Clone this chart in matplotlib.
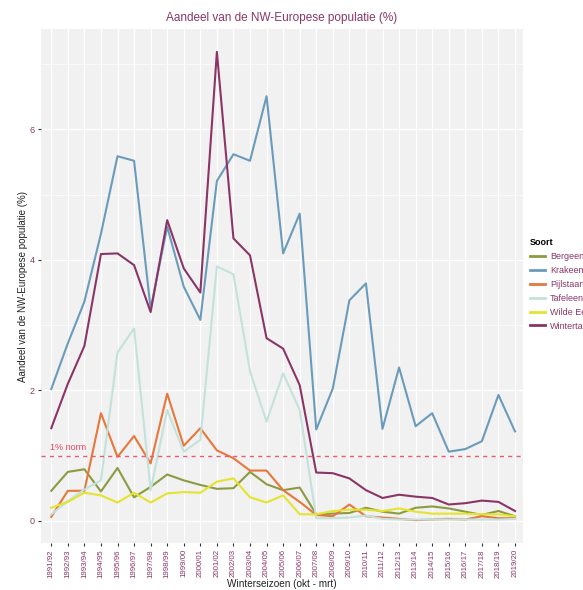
import matplotlib
matplotlib.use("Agg")
import matplotlib.pyplot as plt
from matplotlib.lines import Line2D

plt.rcParams['font.family'] = ['Liberation Sans', 'DejaVu Sans']

seasons = ["1991/92", "1992/93", "1993/94", "1994/95", "1995/96", "1996/97", "1997/98",
           "1998/99", "1999/00", "2000/01", "2001/02", "2002/03", "2003/04", "2004/05",
           "2005/06", "2006/07", "2007/08", "2008/09", "2009/10", "2010/11", "2011/12",
           "2012/13", "2013/14", "2014/15", "2015/16", "2016/17", "2017/18", "2018/19",
           "2019/20"]

bergeend = [0.46, 0.75, 0.79, 0.45, 0.81, 0.36, 0.52, 0.71, 0.62, 0.55, 0.49, 0.50, 0.75,
            0.56, 0.47, 0.51, 0.10, 0.11, 0.12, 0.20, 0.14, 0.11, 0.20, 0.22, 0.19, 0.14,
            0.09, 0.15, 0.07]
krakeend = [2.02, 2.72, 3.36, 4.40, 5.59, 5.52, 3.25, 4.51, 3.59, 3.08, 5.21, 5.62, 5.52,
            6.51, 4.10, 4.71, 1.40, 2.03, 3.38, 3.64, 1.41, 2.35, 1.45, 1.65, 1.06, 1.10,
            1.22, 1.93, 1.37]
pijlstaart = [0.06, 0.46, 0.46, 1.65, 0.98, 1.30, 0.88, 1.95, 1.15, 1.42, 1.08, 0.96, 0.77,
              0.77, 0.47, 0.29, 0.09, 0.07, 0.25, 0.07, 0.05, 0.03, 0.01, 0.02, 0.03, 0.02,
              0.07, 0.04, 0.04]
tafeleend = [0.10, 0.30, 0.48, 0.62, 2.58, 2.95, 0.47, 1.70, 1.06, 1.24, 3.90, 3.78, 2.29,
             1.52, 2.26, 1.70, 0.04, 0.04, 0.05, 0.08, 0.03, 0.02, 0.02, 0.02, 0.02, 0.02,
             0.02, 0.02, 0.03]
wilde_eend = [0.20, 0.29, 0.43, 0.39, 0.28, 0.43, 0.28, 0.42, 0.44, 0.43, 0.60, 0.65, 0.36,
              0.28, 0.39, 0.10, 0.10, 0.15, 0.17, 0.17, 0.15, 0.19, 0.14, 0.11, 0.11, 0.11,
              0.10, 0.10, 0.07]
wintertaling = [1.42, 2.10, 2.68, 4.09, 4.10, 3.92, 3.20, 4.61, 3.87, 3.50, 7.19, 4.33, 4.07,
                2.80, 2.64, 2.08, 0.74, 0.73, 0.65, 0.47, 0.35, 0.40, 0.37, 0.35, 0.25, 0.27,
                0.31, 0.29, 0.15]

species = ["Bergeend", "Krakeend", "Pijlstaart", "Tafeleend", "Wilde Eend", "Wintertaling"]
series = [bergeend, krakeend, pijlstaart, tafeleend, wilde_eend, wintertaling]
colors = ["#8c9b40", "#6b9bbb", "#e8773c", "#c3e2dc", "#e4e42e", "#8a3566"]
norm_value = 1.0

purple = "#8a3566"
fig = plt.figure(figsize=(5.83, 5.90), dpi=100)
ax = fig.add_axes([0.0703, 0.0797, 0.8267, 0.8711])
ax.set_facecolor("#f1f1f1")

x = list(range(len(seasons)))
for vals, col in zip(series, colors):
    ax.plot(x, vals, color=col, lw=1.5, solid_joinstyle="round", zorder=3)

ax.axhline(norm_value, color="#ea5a72", lw=1.0, ls=(0, (3, 3)), zorder=4)
ax.text(-0.05, norm_value + 0.06, "1% norm", color="#e8435e", fontsize=6.5,
        ha="left", va="bottom", zorder=5)

ax.set_xlim(-0.62, len(seasons) - 0.52)
ax.set_ylim(-0.34, 7.54)
ax.set_xticks(x)
ax.set_xticklabels(seasons, rotation=90, fontsize=5.7, color=purple)
ax.set_yticks([0, 2, 4, 6])
ax.set_yticklabels(["0", "2", "4", "6"], fontsize=6.5, color=purple)
ax.set_yticks([1, 3, 5, 7], minor=True)
ax.tick_params(axis="both", which="major", length=2.5, width=0.8, color="#333333", pad=2)
ax.tick_params(axis="y", which="minor", length=0)

ax.grid(True, which="major", color="white", lw=0.9, zorder=0)
ax.grid(True, which="minor", axis="y", color="white", lw=0.5, zorder=0)
ax.set_axisbelow(True)
for s in ax.spines.values():
    s.set_visible(False)

ax.set_title("Aandeel van de NW-Europese populatie (%)", fontsize=8.5, color=purple, pad=6)
ax.set_xlabel("Winterseizoen (okt - mrt)", fontsize=7.2, color="#222222", labelpad=1)
ax.set_ylabel("Aandeel van de NW-Europese populatie (%)", fontsize=7, color="#222222",
              labelpad=1)

handles = [Line2D([0], [0], color=c, lw=2) for c in colors]
leg = fig.legend(handles, species, title="Soort", loc="upper left",
                 bbox_to_anchor=(0.903, 0.603), frameon=False, fontsize=6.5,
                 title_fontproperties={"weight": "bold", "size": 6.5},
                 handlelength=1.6, labelspacing=0.55, handletextpad=0.6,
                 borderaxespad=0)
leg._legend_box.align = "left"
for t in leg.get_texts():
    t.set_color(purple)

fig.savefig("out.png", dpi=100)
